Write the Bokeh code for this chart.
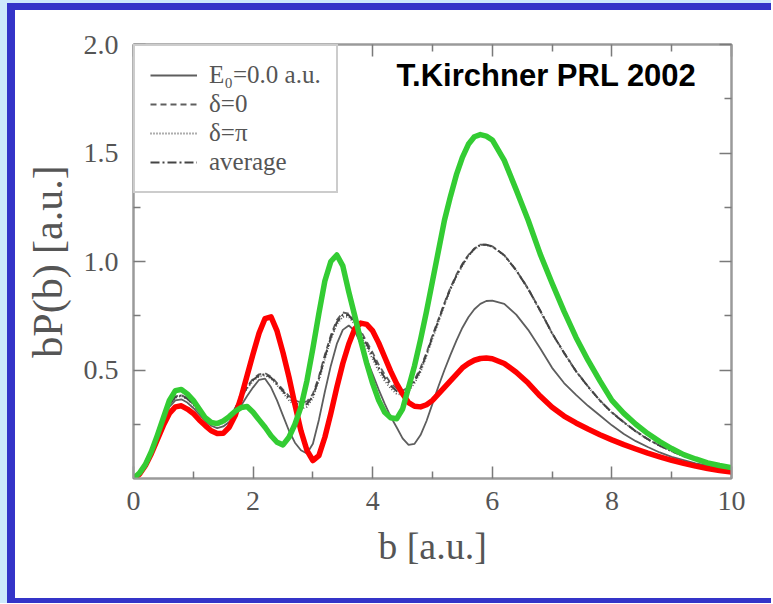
from bokeh.plotting import figure
from bokeh.models import (FixedTicker, LinearAxis, Range1d, Legend, LegendItem,
                          Label, Div, PrintfTickFormatter)
from bokeh.layouts import column, row
from bokeh.embed import file_html
from bokeh.resources import INLINE

# ---------------- data ----------------
b = [0.0, 0.1, 0.2, 0.3, 0.4, 0.5, 0.6, 0.7, 0.8, 0.9,
     1.0, 1.1, 1.2, 1.3, 1.4, 1.5, 1.6, 1.7, 1.8, 1.9,
     2.0, 2.1, 2.2, 2.3, 2.4, 2.5, 2.6, 2.7, 2.8, 2.9,
     3.0, 3.1, 3.2, 3.3, 3.4, 3.5, 3.6, 3.7, 3.8, 3.9,
     4.0, 4.1, 4.2, 4.3, 4.4, 4.5, 4.6, 4.7, 4.8, 4.9,
     5.0, 5.1, 5.2, 5.3, 5.4, 5.5, 5.6, 5.7, 5.8, 5.9,
     6.0, 6.2, 6.4, 6.6, 6.8, 7.0, 7.2, 7.4, 7.6, 7.8,
     8.0, 8.2, 8.4, 8.6, 8.8, 9.0, 9.2, 9.4, 9.6, 9.8, 10.0]

green = [0.0, 0.025, 0.065, 0.125, 0.20, 0.28, 0.36, 0.405, 0.41, 0.39,
         0.36, 0.32, 0.28, 0.258, 0.253, 0.265, 0.285, 0.31, 0.327, 0.332,
         0.305, 0.27, 0.236, 0.197, 0.167, 0.155, 0.19, 0.25, 0.33, 0.45,
         0.60, 0.76, 0.91, 1.0, 1.03, 0.98, 0.86, 0.75, 0.635, 0.53,
         0.437, 0.36, 0.305, 0.28, 0.275, 0.32, 0.42, 0.52, 0.64, 0.77,
         0.91, 1.05, 1.19, 1.30, 1.40, 1.48, 1.54, 1.575, 1.585, 1.578,
         1.56, 1.466, 1.33, 1.19, 1.035, 0.90, 0.77, 0.65, 0.545, 0.45,
         0.36, 0.30, 0.25, 0.207, 0.17, 0.138, 0.11, 0.09, 0.072, 0.06, 0.05]

red = [0.0, 0.02, 0.06, 0.115, 0.18, 0.245, 0.30, 0.33, 0.335, 0.32,
       0.30, 0.27, 0.244, 0.22, 0.207, 0.208, 0.236, 0.29, 0.375, 0.475,
       0.575, 0.67, 0.737, 0.745, 0.68, 0.58, 0.467, 0.34, 0.22, 0.13,
       0.083, 0.105, 0.19, 0.30, 0.42, 0.53, 0.62, 0.69, 0.716, 0.71,
       0.68, 0.625, 0.56, 0.495, 0.437, 0.39, 0.35, 0.333, 0.33, 0.34,
       0.36, 0.39, 0.42, 0.45, 0.48, 0.51, 0.53, 0.545, 0.553, 0.555,
       0.552, 0.53, 0.49, 0.44, 0.38, 0.328, 0.288, 0.256, 0.228, 0.202,
       0.178, 0.156, 0.136, 0.117, 0.10, 0.084, 0.07, 0.057, 0.046, 0.037, 0.03]

e0 = [0.0, 0.022, 0.065, 0.13, 0.20, 0.27, 0.33, 0.36, 0.365, 0.35,
      0.325, 0.295, 0.265, 0.243, 0.232, 0.24, 0.26, 0.295, 0.336, 0.38,
      0.42, 0.455, 0.46, 0.42, 0.36, 0.29, 0.22, 0.165, 0.13, 0.115,
      0.16, 0.27, 0.40, 0.52, 0.62, 0.685, 0.705, 0.68, 0.62, 0.55,
      0.48, 0.41, 0.345, 0.285, 0.236, 0.185, 0.155, 0.16, 0.20, 0.265,
      0.345, 0.425, 0.50, 0.57, 0.635, 0.695, 0.743, 0.78, 0.805, 0.818,
      0.82, 0.805, 0.755, 0.685, 0.60, 0.51, 0.44, 0.385, 0.335, 0.29,
      0.245, 0.205, 0.172, 0.145, 0.12, 0.10, 0.085, 0.07, 0.06, 0.05, 0.045]

delta0 = [0.0, 0.023, 0.068, 0.135, 0.21, 0.28, 0.345, 0.378, 0.385, 0.37,
          0.345, 0.31, 0.28, 0.258, 0.25, 0.26, 0.28, 0.325, 0.38, 0.425,
          0.46, 0.48, 0.485, 0.47, 0.44, 0.41, 0.38, 0.36, 0.35, 0.355,
          0.39, 0.47, 0.57, 0.66, 0.73, 0.765, 0.76, 0.725, 0.68, 0.63,
          0.58, 0.525, 0.48, 0.44, 0.415, 0.405, 0.42, 0.455, 0.51, 0.58,
          0.66, 0.735, 0.81, 0.88, 0.94, 0.99, 1.03, 1.06, 1.078, 1.078,
          1.07, 1.03, 0.96, 0.875, 0.775, 0.67, 0.58, 0.495, 0.425, 0.36,
          0.305, 0.26, 0.218, 0.182, 0.152, 0.126, 0.104, 0.087, 0.072, 0.06, 0.05]

deltapi = [0.0, 0.022, 0.066, 0.132, 0.205, 0.275, 0.34, 0.372, 0.38, 0.365,
           0.34, 0.306, 0.276, 0.254, 0.246, 0.255, 0.275, 0.318, 0.37, 0.415,
           0.45, 0.47, 0.475, 0.46, 0.43, 0.395, 0.36, 0.335, 0.32, 0.33,
           0.37, 0.45, 0.55, 0.64, 0.71, 0.745, 0.745, 0.71, 0.66, 0.605,
           0.55, 0.495, 0.45, 0.415, 0.39, 0.385, 0.40, 0.44, 0.49, 0.565,
           0.645, 0.72, 0.80, 0.87, 0.93, 0.98, 1.025, 1.055, 1.075, 1.076,
           1.068, 1.028, 0.958, 0.872, 0.772, 0.668, 0.578, 0.493, 0.423, 0.358,
           0.303, 0.258, 0.216, 0.18, 0.15, 0.125, 0.103, 0.086, 0.071, 0.059, 0.05]

average = [0.0, 0.023, 0.067, 0.134, 0.208, 0.278, 0.343, 0.375, 0.383, 0.368,
           0.343, 0.308, 0.278, 0.256, 0.248, 0.258, 0.278, 0.322, 0.375, 0.42,
           0.455, 0.475, 0.48, 0.465, 0.435, 0.403, 0.37, 0.348, 0.335, 0.343,
           0.38, 0.46, 0.56, 0.65, 0.72, 0.755, 0.753, 0.718, 0.67, 0.618,
           0.565, 0.51, 0.465, 0.428, 0.403, 0.395, 0.41, 0.448, 0.50, 0.573,
           0.653, 0.728, 0.805, 0.875, 0.935, 0.985, 1.028, 1.058, 1.077, 1.077,
           1.069, 1.029, 0.959, 0.874, 0.774, 0.669, 0.579, 0.494, 0.424, 0.359,
           0.304, 0.259, 0.217, 0.181, 0.151, 0.126, 0.104, 0.087, 0.072, 0.06, 0.05]

x_major = [0, 2, 4, 6, 8, 10]
x_minor = [1, 3, 5, 7, 9]
y_major = [0.5, 1.0, 1.5, 2.0]
y_minor = [0.25, 0.75, 1.25, 1.75]

legend_labels = ["E\u2080=0.0 a.u.", "\u03b4=0", "\u03b4=\u03c0", "average"]
title_text = "T.Kirchner PRL 2002"

# ---------------- figure ----------------
SERIF = "Liberation Serif"
AX_GRAY = "#9a9a9a"
TXT_GRAY = "#555555"
CURVE_GRAY = "#5e5e5e"
BLUE = "#3434c8"
LIGHT = "#cde9fb"

p = figure(frame_width=598, frame_height=434,
           min_border_left=118, min_border_right=38,
           min_border_top=34, min_border_bottom=120,
           x_range=Range1d(0, 10), y_range=Range1d(0, 2.0),
           output_backend="svg", toolbar_location=None,
           x_axis_location=None, y_axis_location=None)
p.background_fill_color = "white"
p.border_fill_color = "white"
p.outline_line_color = AX_GRAY
p.outline_line_width = 2
p.xgrid.visible = False
p.ygrid.visible = False


def make_axis(kind, side, show_labels):
    ax = LinearAxis()
    if kind == "x":
        ax.ticker = FixedTicker(ticks=x_major, minor_ticks=x_minor)
    else:
        ax.ticker = FixedTicker(ticks=y_major, minor_ticks=y_minor)
        ax.formatter = PrintfTickFormatter(format="%.1f")
    ax.axis_line_color = AX_GRAY
    ax.axis_line_width = 2
    ax.major_tick_in = 12
    ax.major_tick_out = 0
    ax.minor_tick_in = 7
    ax.minor_tick_out = 0
    ax.major_tick_line_color = "#7a7a7a"
    ax.major_tick_line_width = 1.5
    ax.minor_tick_line_color = "#7a7a7a"
    ax.minor_tick_line_width = 1.5
    if show_labels:
        ax.major_label_text_font = SERIF
        ax.major_label_text_font_size = "28px"
        ax.major_label_text_color = TXT_GRAY
        ax.axis_label_text_font = SERIF
        ax.axis_label_text_font_size = "38px"
        ax.axis_label_text_font_style = "normal"
        ax.axis_label_text_color = TXT_GRAY
    else:
        ax.major_label_text_font_size = "0px"
        ax.major_label_text_color = None
    p.add_layout(ax, side)
    return ax


xb = make_axis("x", "below", True)
xb.axis_label = "b [a.u.]"
xb.major_label_standoff = 13
xb.axis_label_standoff = 12
yl = make_axis("y", "left", True)
yl.axis_label = "bP(b) [a.u.]"
yl.axis_label_text_font_size = "42px"
yl.major_label_standoff = 15
yl.axis_label_standoff = 10
make_axis("x", "above", False)
make_axis("y", "right", False)

# gray theory curves
r_e0 = p.line(b, e0, line_color=CURVE_GRAY, line_width=1.8)
r_d0 = p.line(b, delta0, line_color=CURVE_GRAY, line_width=1.8, line_dash="6 4")
r_dp = p.line(b, deltapi, line_color=CURVE_GRAY, line_width=1.8, line_dash="1 2")
r_av = p.line(b, average, line_color="#444444", line_width=2.0, line_dash="9 3 2 3")

# coloured curves
p.line(b, red, line_color="#ff0000", line_width=5.5, line_join="round")
p.line(b, green, line_color="#33cc33", line_width=5.5, line_join="round")

legend = Legend(items=[LegendItem(label=legend_labels[0], renderers=[r_e0]),
                       LegendItem(label=legend_labels[1], renderers=[r_d0]),
                       LegendItem(label=legend_labels[2], renderers=[r_dp]),
                       LegendItem(label=legend_labels[3], renderers=[r_av])],
                location="top_left", margin=0, padding=15, spacing=1,
                glyph_width=47, glyph_height=24, label_height=24,
                label_standoff=12,
                label_text_font=SERIF, label_text_font_size="25px",
                label_text_color=TXT_GRAY,
                border_line_color=AX_GRAY, border_line_width=2,
                background_fill_color="white", background_fill_alpha=1.0)
p.add_layout(legend)

p.add_layout(Label(x=4.4, y=1.857, text=title_text, text_baseline="middle",
                   text_font="Liberation Sans", text_font_style="bold",
                   text_font_size="31px", text_color="black"))


# blue picture frame around the figure (page decoration)
def strip(w, h, c):
    return Div(text="", width=w, height=h, margin=0,
               styles={"background-color": c})


layout = column(
    strip(771, 3, LIGHT),
    row(strip(7, 7, LIGHT), strip(764, 7, BLUE)),
    row(strip(7, 588, LIGHT), strip(8, 588, BLUE), p),
    row(strip(7, 5, LIGHT), strip(764, 5, BLUE)))

open("out.html", "w").write(file_html(layout, INLINE))
